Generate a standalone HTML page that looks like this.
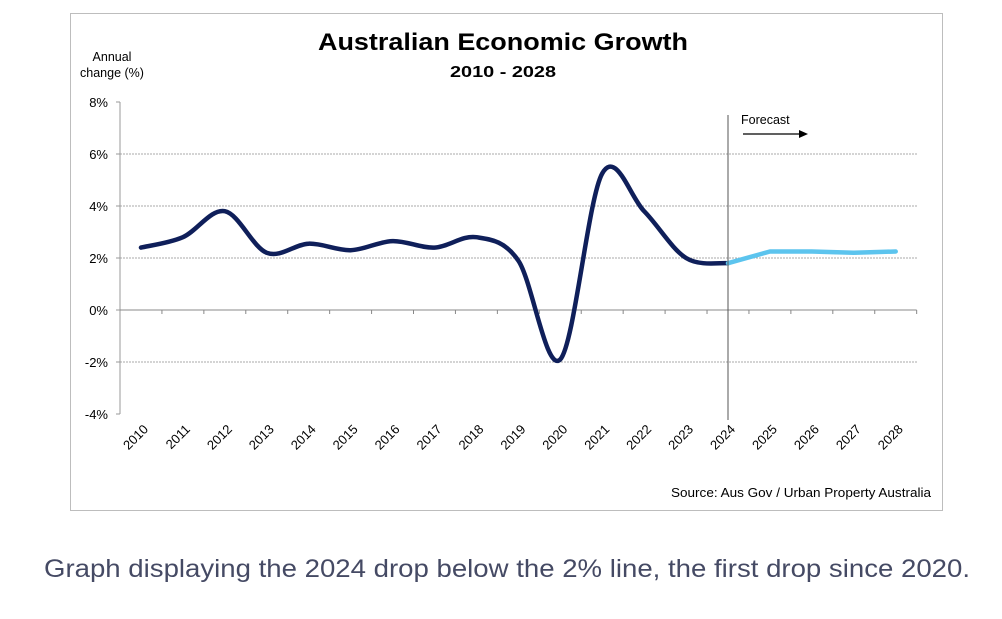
<!DOCTYPE html>
<html><head><meta charset="utf-8"><style>
body{margin:0;background:#fff;width:1002px;height:614px;overflow:hidden;font-family:"Liberation Sans",sans-serif}
</style></head><body>
<svg width="1002" height="614" xmlns="http://www.w3.org/2000/svg">
<rect x="70.5" y="13.5" width="872" height="497" fill="#fff" stroke="#bdbdbd"/>
<text x="318" y="50" textLength="370" lengthAdjust="spacingAndGlyphs" font-size="24" font-weight="bold" fill="#000">Australian Economic Growth</text>
<text x="450" y="77" textLength="106" lengthAdjust="spacingAndGlyphs" font-size="16" font-weight="bold" fill="#000">2010 - 2028</text>
<text x="112" y="61" text-anchor="middle" font-size="12.5" fill="#000">Annual</text>
<text x="112" y="77" text-anchor="middle" font-size="12.5" fill="#000">change (%)</text>
<g id="grid"></g><g id="axes"></g><g id="series"></g>
<line x1="728" y1="115" x2="728" y2="420" stroke="#555" stroke-width="1"/>
<text x="741" y="124" font-size="12.5" fill="#000">Forecast</text>
<line x1="743" y1="134" x2="800" y2="134" stroke="#000" stroke-width="1.2"/>
<polygon points="799,130 808,134 799,138" fill="#000"/>
<text x="671" y="497" textLength="260" lengthAdjust="spacingAndGlyphs" font-size="13" fill="#000">Source: Aus Gov / Urban Property Australia</text>
<text x="44" y="577" textLength="926" lengthAdjust="spacingAndGlyphs" font-size="25" fill="#454a64">Graph displaying the 2024 drop below the 2% line, the first drop since 2020.</text>
</svg>
<script>
const years=[2010,2011,2012,2013,2014,2015,2016,2017,2018,2019,2020,2021,2022,2023,2024,2025,2026,2027,2028];
const actual=[2.4,2.8,3.8,2.2,2.55,2.3,2.65,2.4,2.8,1.9,-1.9,5.25,3.8,2.0,1.8];
const forecast=[1.8,2.25,2.25,2.2,2.25];
const yTicks=[8,6,4,2,0,-2,-4];
const NS="http://www.w3.org/2000/svg";
const x0=120,band=41.93;
const xs=i=>x0+band*(i+0.5);
const ys=v=>310-26*v;
function mk(t,a,p){const e=document.createElementNS(NS,t);for(const k in a)e.setAttribute(k,a[k]);p.appendChild(e);return e;}
const grid=document.getElementById('grid'),axes=document.getElementById('axes'),ser=document.getElementById('series');
yTicks.forEach(v=>{
  if(v!==8&&v!==0&&v!==-4){const g=mk('line',{x1:x0,x2:918,y1:ys(v),y2:ys(v),stroke:'#aaa','stroke-dasharray':'2,1'},grid);
  
  }
  const t=mk('text',{x:x0-12,y:ys(v)+5,'text-anchor':'end','font-size':13,fill:'#000'},axes);t.textContent=v+'%';
  
  
  mk('line',{x1:x0-4,x2:x0,y1:ys(v),y2:ys(v),stroke:'#999'},axes);
});
const ya=mk('line',{x1:x0,x2:x0,y1:ys(8),y2:ys(-4),stroke:'#999'},axes);


const xa=mk('line',{x1:x0,x2:x0+band*years.length,y1:ys(0),y2:ys(0),stroke:'#888'},axes);


years.forEach((y,i)=>{
  mk('line',{x1:x0+band*(i+1),x2:x0+band*(i+1),y1:ys(0),y2:ys(0)+4,stroke:'#888'},axes);
  const cx=xs(i)+8,cy=430;
  const t=mk('text',{x:cx,y:cy,'text-anchor':'end','font-size':13,fill:'#000',transform:`rotate(-45 ${cx} ${cy})`},axes);
  t.textContent=y;
  
  
});
function smooth(pts){let d=`M${pts[0][0]},${pts[0][1]}`;for(let i=0;i<pts.length-1;i++){const p0=pts[i-1]||pts[i],p1=pts[i],p2=pts[i+1],p3=pts[i+2]||p2;
 const c1=[p1[0]+(p2[0]-p0[0])/6,p1[1]+(p2[1]-p0[1])/6],c2=[p2[0]-(p3[0]-p1[0])/6,p2[1]-(p3[1]-p1[1])/6];
 d+=` C${c1[0]},${c1[1]} ${c2[0]},${c2[1]} ${p2[0]},${p2[1]}`;}return d;}
const ap=actual.map((v,i)=>[xs(i),ys(v)]);
const l1=mk('path',{d:smooth(ap),fill:'none',stroke:'#0f1f5a','stroke-width':4.5,'stroke-linecap':'round','stroke-linejoin':'round'},ser);


const off=actual.length-1;
const fp=forecast.map((v,i)=>`${xs(i+off)},${ys(v)}`).join(' ');
const l2=mk('polyline',{points:fp,fill:'none',stroke:'#5cc4ee','stroke-width':4.5,'stroke-linecap':'round','stroke-linejoin':'round'},ser);


</script>
</body></html>
